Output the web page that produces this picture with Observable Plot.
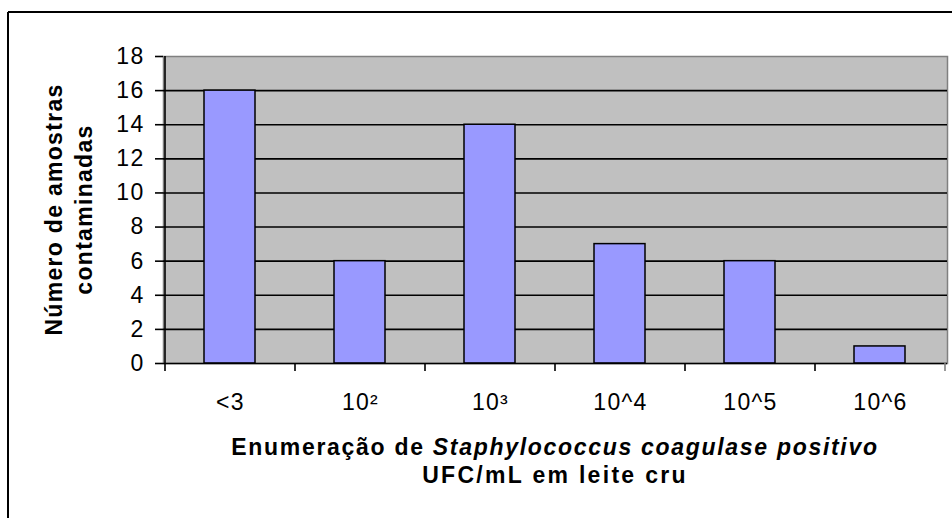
<!DOCTYPE html>
<html>
<head>
<meta charset="utf-8">
<script src="https://cdn.jsdelivr.net/npm/d3@7"></script>
<script src="https://cdn.jsdelivr.net/npm/@observablehq/plot@0.6"></script>
<style>
  html, body { margin: 0; padding: 0; background: #fff; }
  #chart { width: 952px; height: 518px; overflow: hidden; }
  svg { display: block; font-family: "Liberation Sans", Arial, sans-serif; }
</style>
</head>
<body>
<div id="chart"></div>
<script>
const categories = ["<3", "10²", "10³", "10^4", "10^5", "10^6"];
const counts = [16, 6, 14, 7, 6, 1];
const yTicks = [0, 2, 4, 6, 8, 10, 12, 14, 16, 18];
const yTitle = ["Número de amostras", "contaminadas"];
const xTitle1 = ["Enumeração de ", "Staphylococcus coagulase positivo"];
const xTitle2 = "UFC/mL em leite cru";

const data = categories.map((c, i) => ({cat: c, n: counts[i]}));

const W = 952, H = 518;
const mL = 163, mT = 56, mR = 5, mB = 155;

const plot = Plot.plot({
  width: W,
  height: H,
  marginLeft: mL,
  marginTop: mT,
  marginRight: mR,
  marginBottom: mB,
  style: {fontFamily: '"Liberation Sans", Arial, sans-serif', background: "#fff", overflow: "visible"},
  x: {domain: categories, paddingInner: 0, paddingOuter: 0, label: null},
  y: {domain: [0, 18], ticks: yTicks, label: null},
  marks: [
    Plot.frame({fill: "#c0c0c0", stroke: "#808080", strokeWidth: 1.5}),
    Plot.gridY(yTicks.filter(t => t > 0 && t < 18), {stroke: "#000", strokeOpacity: 1, strokeWidth: 1.6}),
    Plot.barY(data, {x: "cat", y: "n", fill: "#9999ff", stroke: "#000", strokeWidth: 1.5, insetLeft: 39, insetRight: 40}),
    Plot.ruleY([0], {stroke: "#000", strokeWidth: 1.6}),
    Plot.axisY({ticks: yTicks, tickSize: 8, tickPadding: 11, fontSize: 23, stroke: "#000", strokeWidth: 1.6, color: "#000"}),
    Plot.axisX({tickSize: 0, tickPadding: 30, fontSize: 23, color: "#000"})
  ]
});

document.getElementById("chart").appendChild(plot);
const svg = d3.select(plot);
svg.selectAll("text").attr("fill", "#000");
svg.selectAll('[aria-label="y-axis tick label"], [aria-label="x-axis tick label"]')
  .attr("font-size", 23).style("font-size", "23px");
svg.selectAll('[aria-label="y-axis tick label"] text, [aria-label="x-axis tick label"] text')
  .style("font-size", "23px").style("letter-spacing", "1.3px");

const xs = plot.scale("x");
const ys = plot.scale("y");
const y0 = ys.apply(0), yTop = ys.apply(18);
const xLeft = xs.apply(categories[0]);
const bw = xs.bandwidth;

// left axis line
svg.append("line").attr("x1", xLeft).attr("x2", xLeft).attr("y1", yTop).attr("y2", y0 + 8)
  .attr("stroke", "#000").attr("stroke-width", 1.6);
// x ticks at band boundaries
categories.forEach((c, i) => {
  const xb = xs.apply(c) + bw;
  svg.append("line").attr("x1", xb).attr("x2", xb).attr("y1", y0).attr("y2", y0 + 8)
    .attr("stroke", i === categories.length - 1 ? "#808080" : "#000").attr("stroke-width", 1.6);
});

// outer frame (top and left visible)
svg.append("line").attr("x1", 8).attr("x2", W).attr("y1", 12).attr("y2", 12).attr("stroke", "#000").attr("stroke-width", 2);
svg.append("line").attr("x1", 8).attr("x2", 8).attr("y1", 12).attr("y2", H).attr("stroke", "#000").attr("stroke-width", 2);

// x title
const cx = xLeft + bw * categories.length / 2;
const t1 = svg.append("text").attr("x", cx).attr("y", 455).attr("text-anchor", "middle")
  .style("font-size", "23px").attr("font-weight", "bold").style("letter-spacing", "1.7px").attr("fill", "#000");
t1.append("tspan").text(xTitle1[0]);
t1.append("tspan").attr("font-style", "italic").text(xTitle1[1]);
svg.append("text").attr("x", cx).attr("y", 483).attr("text-anchor", "middle")
  .style("font-size", "23px").attr("font-weight", "bold").style("letter-spacing", "2.3px").attr("fill", "#000").text(xTitle2);

// y title
const cy = (y0 + yTop) / 2;
yTitle.forEach((t, i) => {
  svg.append("text").attr("transform", `translate(${62 + i * 30},${cy}) rotate(-90)`)
    .attr("text-anchor", "middle").style("font-size", "23px").attr("font-weight", "bold")
    .style("letter-spacing", "1.3px").attr("fill", "#000").text(t);
});
</script>
</body>
</html>
